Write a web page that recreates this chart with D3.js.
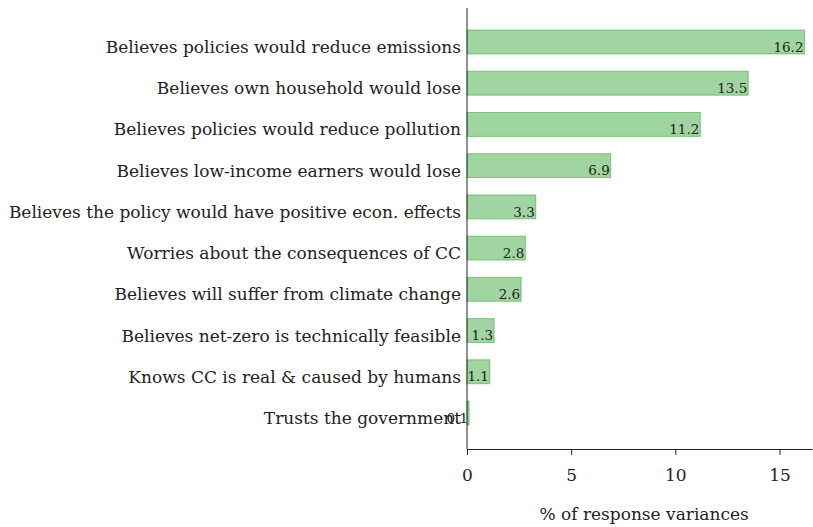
<!DOCTYPE html>
<html>
<head>
<meta charset="utf-8">
<script src="https://cdn.jsdelivr.net/npm/d3@7"></script>
<style>
  body { margin: 0; background: #fff; }
  text { font-family: "DejaVu Serif", serif; fill: #222; }
</style>
</head>
<body>
<div id="chart"></div>
<script>
// data
var categories = [
  "Believes policies would reduce emissions",
  "Believes own household would lose",
  "Believes policies would reduce pollution",
  "Believes low-income earners would lose",
  "Believes the policy would have positive econ. effects",
  "Worries about the consequences of CC",
  "Believes will suffer from climate change",
  "Believes net-zero is technically feasible",
  "Knows CC is real & caused by humans",
  "Trusts the government"
];
var values = [16.2, 13.5, 11.2, 6.9, 3.3, 2.8, 2.6, 1.3, 1.1, 0.1];
var xTicks = [0, 5, 10, 15];

var svgWidth = 813, svgHeight = 527;
var margin = { top: 8, right: 1, bottom: 78, left: 467 };
var width = svgWidth - margin.left - margin.right;
var height = svgHeight - margin.top - margin.bottom;

var svg = d3.select("#chart").append("svg").attr("width", svgWidth).attr("height", svgHeight);
var g = svg.append("g").attr("transform", `translate(${margin.left}, ${margin.top})`);

var x = d3.scaleLinear().domain([0, 16.56]).range([0, width]);
var y = d3.scaleBand().domain(categories).range([13.4, 425.6]).paddingInner(0.42).paddingOuter(0.21);

// text sits a bit under the bar centre, like the original
var textShift = 5;

// bars
g.selectAll("rect.bar")
  .data(values)
  .enter()
  .append("rect")
  .attr("class", "bar")
  .attr("x", 0)
  .attr("y", (d, i) => y(categories[i]))
  .attr("width", d => x(d))
  .attr("height", y.bandwidth())
  .attr("fill", "#2ca02c")
  .attr("fill-opacity", 0.45)
  .attr("stroke", "#2ca02c")
  .attr("stroke-opacity", 0.5)
  .attr("stroke-width", 1);

// value labels
g.selectAll("text.val")
  .data(values)
  .enter()
  .append("text")
  .attr("class", "val")
  .attr("x", d => x(d) - 1)
  .attr("y", (d, i) => y(categories[i]) + y.bandwidth() / 2 + textShift)
  .attr("dy", "0.35em")
  .attr("text-anchor", "end")
  .style("font-size", "13.5px")
  .text(d => d.toFixed(1));

// category labels
g.selectAll("text.cat")
  .data(categories)
  .enter()
  .append("text")
  .attr("class", "cat")
  .attr("x", -6)
  .attr("y", d => y(d) + y.bandwidth() / 2 + textShift)
  .attr("dy", "0.35em")
  .attr("text-anchor", "end")
  .style("font-size", "17px")
  .text(d => d);

// x axis
var xAxis = g.append("g")
  .attr("transform", `translate(0, ${height})`)
  .call(d3.axisBottom(x).tickValues(xTicks).tickSize(6).tickPadding(14).tickSizeOuter(0));
xAxis.select(".domain").attr("stroke", "#222");
xAxis.selectAll(".tick line").attr("stroke", "#222");
xAxis.selectAll("text").style("font-size", "17px").attr("fill", "#222");

// left spine
g.append("line")
  .attr("x1", 0).attr("x2", 0)
  .attr("y1", 0).attr("y2", height)
  .attr("stroke", "#222");

// x label
g.append("text")
  .attr("x", x(8.5))
  .attr("y", height + 71)
  .attr("text-anchor", "middle")
  .style("font-size", "17px")
  .text("% of response variances");
</script>
</body>
</html>
